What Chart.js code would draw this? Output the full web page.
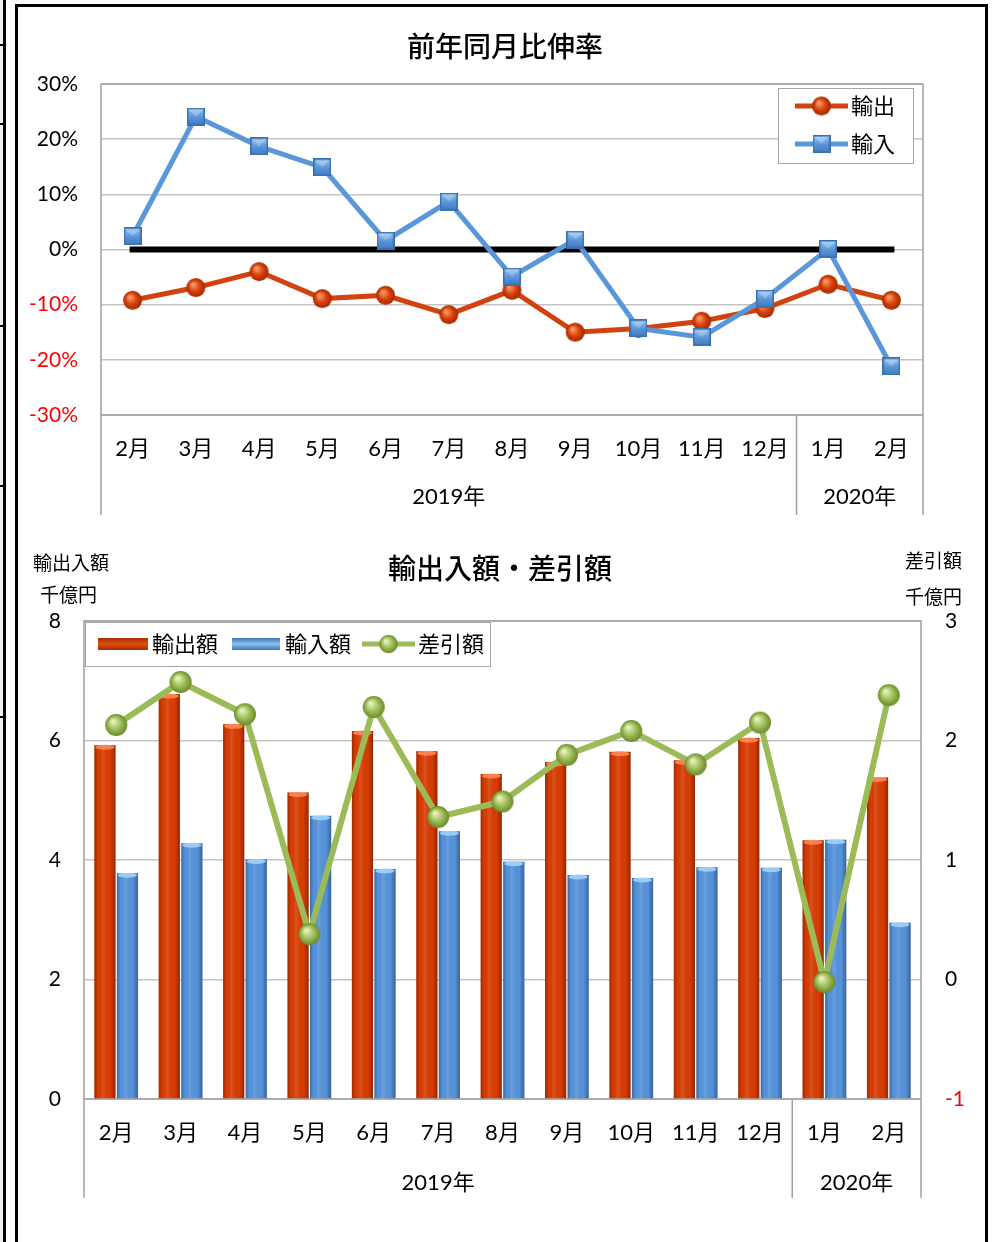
<!DOCTYPE html>
<html>
<head>
<meta charset="utf-8">
<script src="https://cdn.jsdelivr.net/npm/chart.js@4.4.1/dist/chart.umd.min.js"></script>
<style>
  html, body { margin:0; padding:0; background:#fff; }
  body { width:995px; height:1242px; position:relative; overflow:hidden; }
  canvas { position:absolute; }
  .ln { position:absolute; background:#000; }
  #frame { position:absolute; left:15px; top:4px; width:967px; height:1300px; border:3px solid #000; border-bottom:none; }
  #gray { position:absolute; left:0; top:0; width:3px; height:1242px; background:#eeeeee; }
</style>
</head>
<body>
<div id="gray"></div>
<canvas id="c1" width="995" height="530" style="left:0;top:0;width:995px;height:530px"></canvas>
<canvas id="c2" width="995" height="712" style="left:0;top:530px;width:995px;height:712px"></canvas>
<div id="frame"></div>
<div class="ln" style="left:3px;top:0;width:3px;height:1242px"></div>
<div class="ln" style="left:0;top:44px;width:4px;height:2px"></div>
<div class="ln" style="left:0;top:123px;width:4px;height:2px"></div>
<div class="ln" style="left:0;top:325px;width:4px;height:2px"></div>
<div class="ln" style="left:0;top:485px;width:4px;height:2px"></div>
<div class="ln" style="left:0;top:716px;width:4px;height:2px"></div>
<script>
// ---------- DATA ----------
const months = ['2月','3月','4月','5月','6月','7月','8月','9月','10月','11月','12月','1月','2月'];
const years = ['2019年','2020年'];
const yearSplitIndex = 11; // first month of 2020

const yoyExport = [-9.2,-6.9,-4.0,-8.9,-8.3,-11.8,-7.4,-15.0,-14.3,-13.0,-10.7,-6.3,-9.2];
const yoyImport = [2.4,24.1,18.7,14.9,1.6,8.7,-4.9,1.8,-14.3,-15.9,-8.9,0.1,-21.2];
const zeroLine  = [0,0,0,0,0,0,0,0,0,0,0,0,0];
const yoyTicks = [-30,-20,-10,0,10,20,30];

const exportAmt = [5.92,6.78,6.27,5.13,6.16,5.82,5.44,5.64,5.81,5.67,6.04,4.33,5.38];
const importAmt = [3.78,4.28,4.01,4.74,3.85,4.48,3.97,3.75,3.70,3.88,3.87,4.34,2.95];
const balance   = [2.13,2.49,2.22,0.38,2.28,1.36,1.49,1.88,2.08,1.80,2.15,-0.02,2.38];

const title1 = '前年同月比伸率';
const title2 = '輸出入額・差引額';
const leftAxisTitle = ['輸出入額','千億円'];
const rightAxisTitle = ['差引額','千億円'];

// ---------- STYLE ----------
const FONT = "Lato, 'Noto Sans CJK JP', sans-serif";
const CJK = "'Noto Sans CJK JP', sans-serif";
const RED = '#D2420F', BLUE = '#5A96DA', GREEN = '#9BBB59';
const GRID = '#c4c4c4', AXIS = '#a0a0a0';

function sphere(d, hi, mid, edge) {
  const c = document.createElement('canvas'); c.width = d + 2; c.height = d + 2;
  const g = c.getContext('2d'); const r = d / 2, cx = r + 1, cy = r + 1;
  const gr = g.createRadialGradient(cx - r*0.3, cy - r*0.35, r*0.1, cx, cy, r);
  gr.addColorStop(0, hi); gr.addColorStop(0.55, mid); gr.addColorStop(1, edge);
  g.fillStyle = gr; g.beginPath(); g.arc(cx, cy, r, 0, Math.PI*2); g.fill();
  return c;
}
function square(s) {
  const c = document.createElement('canvas'); c.width = s; c.height = s;
  const g = c.getContext('2d');
  const gr = g.createLinearGradient(0, 0, 0, s);
  gr.addColorStop(0, '#9cc9f2'); gr.addColorStop(0.5, '#5c98da'); gr.addColorStop(1, '#3f77bb');
  g.fillStyle = gr; g.fillRect(0, 0, s, s);
  g.strokeStyle = '#3a6fae'; g.lineWidth = 1.5; g.strokeRect(0.75, 0.75, s - 1.5, s - 1.5);
  g.fillStyle = 'rgba(255,255,255,0.25)';
  g.beginPath(); g.moveTo(2,2); g.lineTo(s-2,2); g.lineTo(s/2, s/2); g.closePath(); g.fill();
  return c;
}
const redBall = sphere(19, '#ff9a66', '#d8400a', '#9e2a00');
const blueSq = square(18);
const greenBall = sphere(22, '#e6f2b8', '#9cbc58', '#6a8a2c');

function font(sz, fam, w) { return (w ? w + ' ' : '') + sz + 'px ' + (fam || FONT); }

function splitLines(chart, yTop, yBot, yearY) {
  const ctx = chart.ctx, x = chart.scales.x, a = chart.chartArea;
  const mid = (x.getPixelForValue(yearSplitIndex - 1) + x.getPixelForValue(yearSplitIndex)) / 2;
  ctx.save();
  ctx.strokeStyle = AXIS; ctx.lineWidth = 1.5;
  [a.left, mid, a.right].forEach(px => { ctx.beginPath(); ctx.moveTo(px, yTop); ctx.lineTo(px, yBot); ctx.stroke(); });
  ctx.fillStyle = '#000'; ctx.font = font(22); ctx.textAlign = 'center'; ctx.textBaseline = 'middle';
  ctx.fillText(years[0], (a.left + mid) / 2, yearY);
  ctx.fillText(years[1], (mid + a.right) / 2, yearY);
  ctx.restore();
}
function plotBorder(chart) {
  const ctx = chart.ctx, a = chart.chartArea;
  ctx.save(); ctx.strokeStyle = AXIS; ctx.lineWidth = 1.5;
  ctx.strokeRect(a.left, a.top, a.right - a.left, a.bottom - a.top);
  ctx.restore();
}

// ---------- CHART 1 ----------
const decor1 = {
  id: 'decor1',
  beforeDatasetsDraw(chart) { plotBorder(chart); },
  afterDraw(chart) {
    const ctx = chart.ctx;
    splitLines(chart, chart.chartArea.bottom, 515, 497);
    ctx.save();
    ctx.fillStyle = '#000'; ctx.font = font(28, CJK, 500); ctx.textAlign = 'center'; ctx.textBaseline = 'middle';
    ctx.fillText(title1, 505, 46);
    // legend
    ctx.fillStyle = '#fff'; ctx.fillRect(778, 88, 135, 75);
    ctx.strokeStyle = '#a6a6a6'; ctx.lineWidth = 1; ctx.strokeRect(778.5, 88.5, 135, 75);
    const rows = [[yoyExport, RED, redBall, '輸出', 106], [yoyImport, BLUE, blueSq, '輸入', 144]];
    rows.forEach(r => {
      ctx.strokeStyle = r[1]; ctx.lineWidth = 5;
      ctx.beginPath(); ctx.moveTo(795, r[4]); ctx.lineTo(848, r[4]); ctx.stroke();
      ctx.drawImage(r[2], 821.5 - r[2].width/2, r[4] - r[2].height/2);
      ctx.fillStyle = '#000'; ctx.font = font(22, CJK); ctx.textAlign = 'left';
      ctx.fillText(r[3], 851, r[4]);
    });
    ctx.restore();
  }
};

new Chart(document.getElementById('c1'), {
  type: 'line',
  data: {
    labels: months,
    datasets: [
      { label: '輸出', data: yoyExport, borderColor: RED, borderWidth: 5, pointStyle: redBall, pointRadius: 9, order: 1 },
      { label: '輸入', data: yoyImport, borderColor: BLUE, borderWidth: 5, pointStyle: blueSq, pointRadius: 9, order: 0 },
      { label: 'zero', data: zeroLine, borderColor: '#000', borderWidth: 6, pointRadius: 0, borderCapStyle: 'square', order: 2 }
    ]
  },
  options: {
    responsive: false, animation: false,
    layout: { padding: { left: 0, right: 72, top: 84, bottom: 0 } },
    plugins: { legend: { display: false }, title: { display: false }, tooltip: { enabled: false } },
    scales: {
      x: {
        offset: true,
        grid: { display: false, drawTicks: false },
        border: { display: false },
        ticks: { color: '#000', font: { size: 22, family: FONT }, padding: 21, maxRotation: 0, autoSkip: false },
        afterFit(s) { s.height = 115; }
      },
      y: {
        min: -30, max: 30,
        afterBuildTicks(s) { s.ticks = yoyTicks.map(v => ({ value: v })); },
        grid: { color: GRID, lineWidth: 1.5, drawTicks: false },
        border: { display: false },
        ticks: {
          font: { size: 21, family: FONT }, padding: 23,
          color: c => (c.tick && c.tick.value < 0) ? '#ff0000' : '#000',
          callback: v => v + '%'
        },
        afterFit(s) { s.width = 101; }
      }
    }
  },
  plugins: [decor1]
});

// ---------- CHART 2 ----------
const decor2 = {
  id: 'decor2',
  beforeDatasetsDraw(chart) { plotBorder(chart); },
  afterDatasetDraw(chart, args) {
    const meta = args.meta;
    if (meta.type !== 'bar') return;
    const ctx = chart.ctx;
    const isRed = args.index === 0;
    ctx.save();
    meta.data.forEach(el => {
      const w = el.width, l = el.x - w/2, t = el.y, h = el.base - el.y;
      const g = ctx.createLinearGradient(l, 0, l + w, 0);
      g.addColorStop(0, 'rgba(0,0,0,0.28)');
      g.addColorStop(0.18, 'rgba(0,0,0,0)');
      g.addColorStop(0.4, 'rgba(255,255,255,0.12)');
      g.addColorStop(0.75, 'rgba(0,0,0,0)');
      g.addColorStop(1, 'rgba(0,0,0,0.32)');
      ctx.fillStyle = g; ctx.fillRect(l, t, w, h);
      ctx.fillStyle = isRed ? 'rgba(255,140,90,0.85)' : 'rgba(160,210,250,0.9)';
      ctx.beginPath(); ctx.ellipse(el.x, t + 2, w/2 - 1, 2.5, 0, 0, Math.PI*2); ctx.fill();
    });
    ctx.restore();
  },
  afterDraw(chart) {
    const ctx = chart.ctx;
    splitLines(chart, chart.chartArea.bottom, 668, 653);
    ctx.save();
    ctx.fillStyle = '#000'; ctx.textBaseline = 'middle';
    ctx.font = font(28, CJK, 500); ctx.textAlign = 'center';
    ctx.fillText(title2, 500, 38);
    ctx.font = font(19, CJK); ctx.textAlign = 'left';
    ctx.fillText(leftAxisTitle[0], 33, 33);
    ctx.fillText(leftAxisTitle[1], 40, 65);
    ctx.fillText(rightAxisTitle[0], 905, 31);
    ctx.fillText(rightAxisTitle[1], 905, 67);
    // legend
    ctx.fillStyle = '#fff'; ctx.fillRect(85, 92, 405, 44);
    ctx.strokeStyle = '#a6a6a6'; ctx.lineWidth = 1; ctx.strokeRect(85.5, 92.5, 405, 44);
    const cy = 114;
    const sw = (x0, x1, c1, c2) => {
      const g = ctx.createLinearGradient(0, cy - 6, 0, cy + 6);
      g.addColorStop(0, c1); g.addColorStop(0.5, c2); g.addColorStop(1, c1);
      ctx.fillStyle = g; ctx.fillRect(x0, cy - 6, x1 - x0, 12);
    };
    sw(98, 148, '#a82c00', '#e0500f');
    sw(232, 280, '#3d74b8', '#8cc3f2');
    ctx.strokeStyle = GREEN; ctx.lineWidth = 5;
    ctx.beginPath(); ctx.moveTo(362, cy); ctx.lineTo(415, cy); ctx.stroke();
    ctx.drawImage(greenBall, 388.5 - greenBall.width/2 + 2, cy - greenBall.height/2 + 2, greenBall.width - 4, greenBall.height - 4);
    ctx.fillStyle = '#000'; ctx.font = font(22, CJK); ctx.textAlign = 'left';
    ctx.fillText('輸出額', 152, cy);
    ctx.fillText('輸入額', 285, cy);
    ctx.fillText('差引額', 418, cy);
    ctx.restore();
  }
};

new Chart(document.getElementById('c2'), {
  data: {
    labels: months,
    datasets: [
      { type: 'bar', label: '輸出額', data: exportAmt, backgroundColor: '#D93C02', yAxisID: 'y', order: 1,
        categoryPercentage: 0.7, barPercentage: 0.94 },
      { type: 'bar', label: '輸入額', data: importAmt, backgroundColor: '#5593DC', yAxisID: 'y', order: 2,
        categoryPercentage: 0.7, barPercentage: 0.94 },
      { type: 'line', label: '差引額', data: balance, borderColor: GREEN, borderWidth: 6, yAxisID: 'y1',
        pointStyle: greenBall, pointRadius: 11, order: 0 }
    ]
  },
  options: {
    responsive: false, animation: false,
    layout: { padding: { left: 0, right: 0, top: 91, bottom: 0 } },
    plugins: { legend: { display: false }, title: { display: false }, tooltip: { enabled: false } },
    scales: {
      x: {
        offset: true,
        grid: { display: false, drawTicks: false },
        border: { display: false },
        ticks: { color: '#000', font: { size: 22, family: FONT }, padding: 21, maxRotation: 0, autoSkip: false },
        afterFit(s) { s.height = 143; }
      },
      y: {
        position: 'left', min: 0, max: 8,
        ticks: { stepSize: 2, color: '#000', font: { size: 21, family: FONT }, padding: 23 },
        grid: { color: GRID, lineWidth: 1.5, drawTicks: false },
        border: { display: false },
        afterFit(s) { s.width = 84; }
      },
      y1: {
        position: 'right', min: -1, max: 3,
        ticks: { stepSize: 1, font: { size: 21, family: FONT }, padding: 24,
          color: c => (c.tick && c.tick.value < 0) ? '#ff0000' : '#000' },
        grid: { drawOnChartArea: false, drawTicks: false },
        border: { display: false },
        afterFit(s) { s.width = 74; }
      }
    }
  },
  plugins: [decor2]
});
</script>
</body>
</html>
